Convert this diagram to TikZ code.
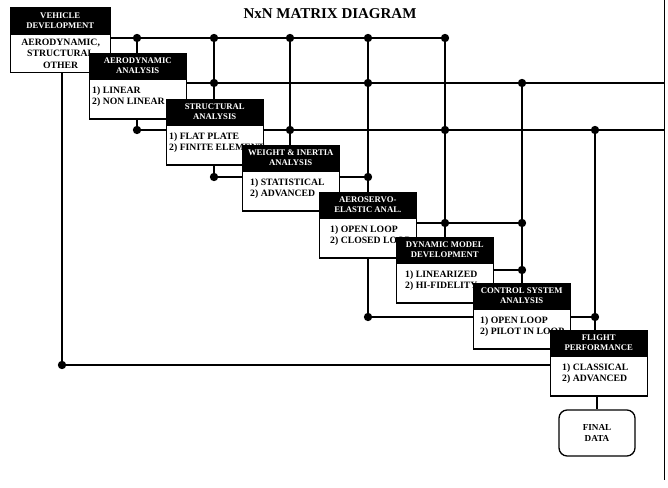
\documentclass[tikz,border=0pt]{standalone}
\usepackage{fontspec}
\setmainfont{Liberation Serif}
\usetikzlibrary{positioning,calc}
\tikzset{
  cab/.style={draw=black,fill=black,text=white,align=center,inner sep=0pt,anchor=north west,
    minimum width=2.91cm,minimum height=0.75cm,font=\bfseries\fontsize{7.4}{8.2}\selectfont},
  cuerpo/.style={draw=black,line width=1.1pt,fill=white,inner sep=0pt,anchor=north west,
    minimum width=2.91cm,minimum height=1.2cm},
  texto/.style={anchor=north west,align=left,inner sep=0pt,font=\bfseries\fontsize{8.3}{9.4}\selectfont},
  linea/.style={line width=1.2pt},
  pt/.style={circle,fill=black,inner sep=0pt,minimum size=0.25cm},
  final/.style={draw=black,line width=1.1pt,rounded corners=7pt,minimum width=2.28cm,minimum height=1.38cm,
    align=center,font=\bfseries\fontsize{7.8}{9}\selectfont},
}
\begin{document}
\begin{tikzpicture}[x=0.03cm,y=-0.03cm]
  \useasboundingbox (0,0) rectangle (668,488);
  \node[font=\bfseries\fontsize{12.8}{14}\selectfont] (tit) at (330,14) {NxN MATRIX DIAGRAM};
  % puntos de union: fila / columna
  \foreach \n/\x/\y in {12/137/38,13/214/38,14/290/38,15/368/38,16/445/38,
      23/214/83,25/368/83,27/522/83,
      34/290/130,36/445/130,38/595/130,
      45/368/177,
      56/445/223,57/522/223,
      67/522/270,
      78/595/317,
      32/137/130,43/214/177,75/368/317,81/62/365}
    \node[pt] (p\n) at (\x,\y) {};
  % filas hacia la derecha
  \draw[linea] (10,38) -- (p16);
  \draw[linea] (185,83) -- (664,83);
  \draw[linea] (263,130) -- (664,130);
  \draw[linea] (340,177) -- (p45);
  \draw[linea] (415,223) -- (p57);
  \draw[linea] (493,270) -- (p67);
  \draw[linea] (570,317) -- (p78);
  % columnas hacia abajo
  \draw[linea] (p12) -- (137,53);
  \draw[linea] (p13) -- (214,99);
  \draw[linea] (p14) -- (290,145);
  \draw[linea] (p15) -- (368,192);
  \draw[linea] (p16) -- (445,237);
  \draw[linea] (p27) -- (522,283);
  \draw[linea] (p38) -- (595,330);
  % retornos
  \draw[linea] (62,72) -- (p81) -- (550,365);
  \draw[linea] (137,118) -- (p32) -- (166,130);
  \draw[linea] (214,163) -- (p43) -- (242,177);
  \draw[linea] (368,257) -- (p75) -- (473,317);
  % borde derecho
  \draw[line width=1.4pt] (664.5,0) -- (664.5,480);
  % cajas
  \node[cab,minimum width=3.0cm,minimum height=0.82cm] (hd1) at (10,7) {VEHICLE\\DEVELOPMENT};
  \node[cuerpo,minimum width=3.0cm,minimum height=1.14cm] (bd1) at (10,34) {};
  \node[align=center,inner sep=0pt,font=\bfseries\fontsize{8.3}{9.8}\selectfont] (tx1) at (bd1.center) {AERODYNAMIC,\\STRUCTURAL\\OTHER};
  \foreach \i/\x/\y/\d/\h/\b in {
      2/89/53/3/{AERODYNAMIC\\ANALYSIS}/{1) LINEAR\\2) NON LINEAR},
      3/166/99/3/{STRUCTURAL\\ANALYSIS}/{1) FLAT PLATE\\2) FINITE ELEMENT},
      4/242/145/8/{WEIGHT \& INERTIA\\ANALYSIS}/{1) STATISTICAL\\2) ADVANCED},
      5/319/192/11/{AEROSERVO-\\ELASTIC ANAL.}/{1) OPEN LOOP\\2) CLOSED LOOP},
      6/396/237/9/{DYNAMIC MODEL\\DEVELOPMENT}/{1) LINEARIZED\\2) HI-FIDELITY},
      7/473/283/7/{CONTROL SYSTEM\\ANALYSIS}/{1) OPEN LOOP\\2) PILOT IN LOOP},
      8/550/330/12/{FLIGHT\\PERFORMANCE}/{1) CLASSICAL\\2) ADVANCED}}{
    \node[cab] (hd\i) at (\x,\y) {\h};
    \node[cuerpo,below=0pt of hd\i.south west,anchor=north west] (bd\i) {};
    \node[texto] (tx\i) at ($(bd\i.north west)+(\d,8)$) {\b};
  }
  \node[final] (fin) at (597,433) {FINAL\\DATA};
  \draw[linea] (bd8.south -| fin) -- (fin);
\end{tikzpicture}
\end{document}
